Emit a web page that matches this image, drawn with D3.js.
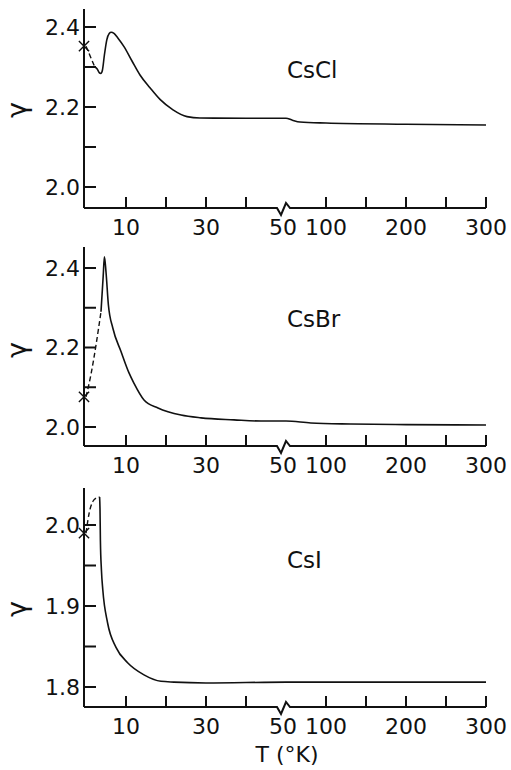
<!DOCTYPE html>
<html>
<head>
<meta charset="utf-8">
<script src="https://cdn.jsdelivr.net/npm/d3@7"></script>
<style>
  body { margin: 0; background: #fff; }
  text { font-family: "DejaVu Sans", sans-serif; fill: #111; }
</style>
</head>
<body>
<svg id="chart"></svg>
<script>
// x axis: linear 0-50 K, then compressed 50-300 K after the break
const xTicks = [10, 20, 30, 40, 100, 150, 200, 250, 300];
const xTickLabels = [10, 30, 50, 100, 200, 300];

// CsCl
const csclStart = [[0, 2.352], [2.2, 2.300]];
const csclCurve = [
  [2.2, 2.300], [2.8, 2.295], [3.3, 2.286], [3.7, 2.284], [4.1, 2.292],
  [4.6, 2.33], [5.2, 2.368], [5.8, 2.384], [6.3, 2.387], [7, 2.384],
  [8, 2.372], [9.5, 2.351], [11.5, 2.315], [13.5, 2.28], [16, 2.248],
  [18.5, 2.219], [21.75, 2.193], [25.25, 2.176], [28.5, 2.1725],
  [40, 2.172], [50, 2.172], [58, 2.167], [67.5, 2.1625], [100, 2.160],
  [200, 2.157], [300, 2.155]
];

// CsBr
const csbrStart = [[0, 2.076], [1.2, 2.13], [2.5, 2.206], [3.75, 2.29]];
const csbrCurve = [
  [3.75, 2.29], [4.3, 2.38], [4.6, 2.428], [5, 2.39], [5.6, 2.307],
  [6.7, 2.249], [8.75, 2.19], [10.75, 2.136], [12, 2.11], [14.5, 2.068],
  [18, 2.048], [23.75, 2.03], [28.75, 2.023], [37, 2.018], [43.75, 2.015],
  [50, 2.015], [81, 2.01], [131, 2.0075], [200, 2.006], [300, 2.005]
];

// CsI
const csiStart = [[0, 1.99], [0.8, 2.015], [1.7, 2.029], [2.9, 2.034], [3.4, 2.0345]];
const csiCurve = [
  [3.4, 2.0345], [3.5, 2.02], [3.6, 1.981], [3.85, 1.945], [4.2, 1.92],
  [5.4, 1.879], [7.5, 1.849], [10.4, 1.83], [14.5, 1.815], [18.75, 1.807],
  [22, 1.806], [30, 1.805], [50, 1.806], [100, 1.806], [200, 1.806], [300, 1.806]
];

const panels = [
  { name: "CsCl", start: csclStart, curve: csclCurve, ticks: [2.0, 2.1, 2.2, 2.3, 2.4], labels: [2.0, 2.2, 2.4],
    domain: [2.0, 2.4], range: [187, 27], top: 9, bottom: 208, nameY: 78, gammaY: 110 },
  { name: "CsBr", start: csbrStart, curve: csbrCurve, ticks: [2.0, 2.1, 2.2, 2.3, 2.4], labels: [2.0, 2.2, 2.4],
    domain: [2.0, 2.4], range: [427, 268], top: 247, bottom: 446, nameY: 327, gammaY: 350 },
  { name: "CsI", start: csiStart, curve: csiCurve, ticks: [1.8, 1.85, 1.9, 1.95, 2.0], labels: [1.8, 1.9, 2.0],
    domain: [1.8, 2.0], range: [687, 525], top: 488, bottom: 707, nameY: 568, gammaY: 609 }
];

const width = 511, height = 770;
const axisX = 84;
const svg = d3.select("#chart").attr("width", width).attr("height", height);

const x = d3.scaleLinear().domain([0, 50, 300]).range([86, 286, 486]);

panels.forEach(p => {
  const y = d3.scaleLinear().domain(p.domain).range(p.range);
  const g = svg.append("g");
  const base = p.bottom;

  // y axis
  g.append("line")
    .attr("x1", axisX).attr("x2", axisX)
    .attr("y1", p.top).attr("y2", base)
    .attr("stroke", "#111").attr("stroke-width", 2);

  g.selectAll(".ytick")
    .data(p.ticks)
    .join("line")
    .attr("x1", axisX - 1).attr("x2", axisX + 12)
    .attr("y1", d => y(d)).attr("y2", d => y(d))
    .attr("stroke", "#111").attr("stroke-width", 2);

  g.selectAll(".ylabel")
    .data(p.labels)
    .join("text")
    .attr("x", axisX - 4)
    .attr("y", d => y(d))
    .attr("dy", "0.36em")
    .attr("text-anchor", "end")
    .style("font-size", "22px")
    .text(d => d.toFixed(1));

  // x axis with break near 50
  const b = x(50) - 2;
  const axisPath = d3.path();
  axisPath.moveTo(axisX, base);
  axisPath.lineTo(b - 7, base);
  axisPath.lineTo(b - 3, base + 7);
  axisPath.lineTo(b + 2, base - 5);
  axisPath.lineTo(b + 6, base);
  axisPath.lineTo(x(300), base);
  g.append("path")
    .attr("d", axisPath.toString())
    .attr("fill", "none")
    .attr("stroke", "#111").attr("stroke-width", 2);

  g.selectAll(".xtick")
    .data(xTicks)
    .join("line")
    .attr("x1", d => x(d)).attr("x2", d => x(d))
    .attr("y1", base).attr("y2", base - 11)
    .attr("stroke", "#111").attr("stroke-width", 2);

  g.selectAll(".xlabel")
    .data(xTickLabels)
    .join("text")
    .attr("x", d => d === 50 ? x(d) - 3 : x(d))
    .attr("y", base + 27)
    .attr("text-anchor", "middle")
    .style("font-size", "22px")
    .text(d => d);

  // curves
  const line = d3.line()
    .x(d => x(d[0]))
    .y(d => y(d[1]))
    .curve(d3.curveMonotoneX);

  g.append("path")
    .attr("d", line(p.start))
    .attr("fill", "none")
    .attr("stroke", "#111").attr("stroke-width", 1.4)
    .attr("stroke-dasharray", "5,3");

  g.append("path")
    .attr("d", line(p.curve))
    .attr("fill", "none")
    .attr("stroke", "#111").attr("stroke-width", 1.6);

  g.append("path")
    .attr("d", d3.symbol(d3.symbolTimes, 70)())
    .attr("transform", `translate(${axisX},${y(p.start[0][1])})`)
    .attr("fill", "none")
    .attr("stroke", "#111").attr("stroke-width", 1.4);

  // labels
  g.append("text")
    .attr("x", 287).attr("y", p.nameY)
    .style("font-size", "23px")
    .text(p.name);

  g.append("text")
    .attr("transform", `translate(26,${p.gammaY}) rotate(-90)`)
    .attr("text-anchor", "middle")
    .style("font-size", "27px")
    .text("γ");
});

svg.append("text")
  .attr("x", 287).attr("y", 762)
  .attr("text-anchor", "middle")
  .style("font-size", "22px")
  .text("T (°K)");
</script>
</body>
</html>
